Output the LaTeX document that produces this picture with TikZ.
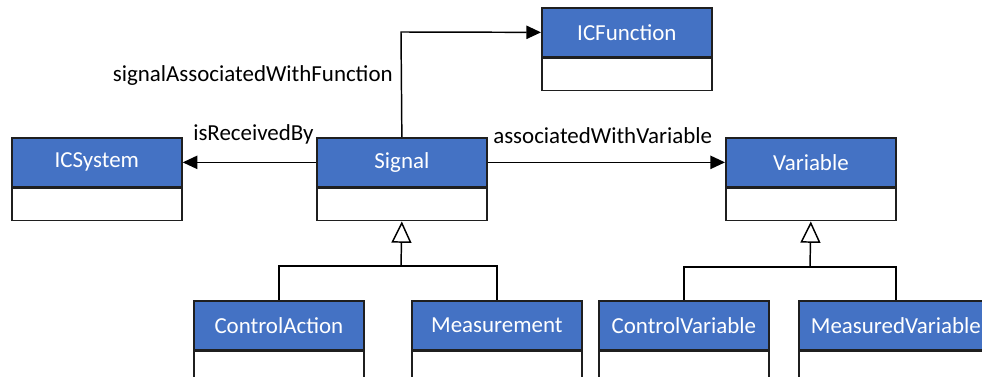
\documentclass[tikz,border=0pt]{standalone}
\usepackage{fontspec}
\setmainfont{Carlito}
\usetikzlibrary{arrows.meta}
\definecolor{hdrblue}{HTML}{4472C4}
\definecolor{edge}{HTML}{1F1F1F}
\begin{document}
\begin{tikzpicture}[x=0.75pt,y=-0.75pt,
  font=\fontsize{17.2pt}{20pt}\selectfont,
  hdr/.style={draw=edge,line width=1.3pt,fill=hdrblue,text=white,minimum width=127.5pt,minimum height=36.75pt,inner sep=0pt,anchor=north west},
  bdy/.style={draw=edge,line width=1.3pt,fill=white,minimum width=127.5pt,minimum height=24pt,inner sep=0pt,anchor=north},
  assoc/.style={line width=1.1pt,draw=black,-{Triangle[length=11pt,width=10pt]}},
  gen/.style={line width=1.1pt,draw=black,-{Triangle[open,length=16pt,width=15pt,line width=1.1pt]}},
  tree/.style={line width=1.1pt,draw=black},
  lbl/.style={inner sep=0pt,text=black}]
\useasboundingbox (0,0) rectangle (982,377);
\clip (0,0) rectangle (982,377);
% classes
\node[hdr] (fun) at (541,7) {ICFunction};
\node[bdy] (funb) at (fun.south) {};
\node[hdr] (sys) at (11,137) {ICSystem};
\node[bdy] (sysb) at (sys.south) {};
\node[hdr] (sig) at (316,137) {Signal};
\node[bdy] (sigb) at (sig.south) {};
\node[hdr] (var) at (725,137) {Variable};
\node[bdy] (varb) at (var.south) {};
\node[hdr] (ca) at (193,300) {ControlAction};
\node[bdy] (cab) at (ca.south) {};
\node[hdr] (ms) at (411,300) {Measurement};
\node[bdy] (msb) at (ms.south) {};
\node[hdr] (cv) at (598,300) {ControlVariable};
\node[bdy] (cvb) at (cv.south) {};
\node[hdr,minimum width=145.5pt] (mv) at (798,300) {MeasuredVariable};
\node[bdy,minimum width=145.5pt] (mvb) at (mv.south) {};
% associations
\coordinate (fbend) at (401,32);
\draw[assoc] (sig.north) -- (fbend) -- (fun.west);
\draw[assoc] (sig.west) -- (sys.east);
\draw[assoc] (sig.east) -- (var.west);
\node[lbl,anchor=east] (l1) at (393,76) {signalAssociatedWithFunction};
\node[lbl,anchor=south west] (l2) at (193,144) {isReceivedBy};
\node[lbl,anchor=south west] (l3) at (493,144) {associatedWithVariable};
% generalizations
\coordinate (j1) at (401,266);
\coordinate (j2) at (810,267);
\draw[tree] (ca.north) |- (j1) -| (ms.north);
\draw[gen] (j1) -- (sigb.south);
\draw[tree] (cv.north) |- (j2) -| (mv.north);
\draw[gen] (j2) -- (varb.south);
\end{tikzpicture}
\end{document}
